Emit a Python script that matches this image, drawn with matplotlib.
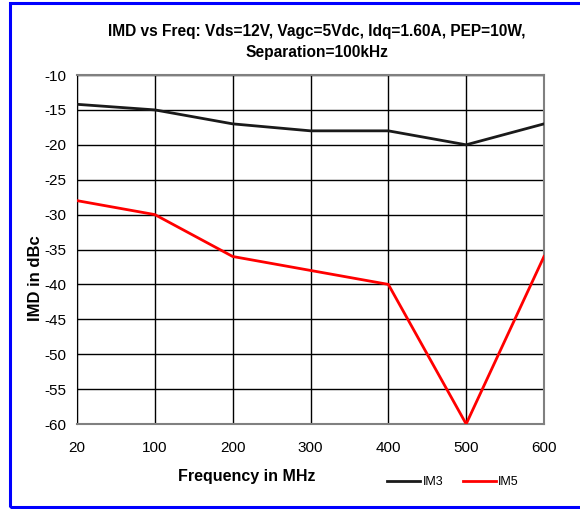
import matplotlib
matplotlib.use("Agg")
import matplotlib.pyplot as plt
from matplotlib.patches import Rectangle
from matplotlib.lines import Line2D

plt.rcParams['font.family'] = ['Liberation Sans', 'DejaVu Sans']

freqs = ["20", "100", "200", "300", "400", "500", "600"]
im3 = [-14.2, -15, -17, -18, -18, -20, -17]
im5 = [-28, -30, -36, -38, -40, -60, -36]
yticks = [-10, -15, -20, -25, -30, -35, -40, -45, -50, -55, -60]

W, H = 580, 509
fig = plt.figure(figsize=(W/100, H/100), dpi=100)
ax = fig.add_axes([77/W, 1-424/H, (544-77)/W, (424-75)/H])

x = list(range(len(freqs)))
ax.plot(x, im3, color='#1a1a1a', lw=2, label='IM3', zorder=3)
ax.plot(x, im5, color='#ff0000', lw=2, label='IM5', zorder=3)

ax.set_xlim(0, len(freqs)-1)
ax.set_ylim(-60, -10)
ax.set_xticks(x)
ax.set_xticklabels(freqs, fontsize=11)
ax.set_yticks(yticks)
ax.set_yticklabels([str(v) for v in yticks], fontsize=11)
ax.tick_params(axis='y', length=0, pad=8)
ax.tick_params(axis='x', length=0, pad=12)
ax.grid(True, color='black', lw=1, zorder=1)
for s in ['top', 'right', 'bottom']:
    ax.spines[s].set_color('#808080')
    ax.spines[s].set_linewidth(1.5)
ax.spines['left'].set_color('black')

fig.text(35/W, 1-278/H, 'IMD in dBc', fontsize=12, fontweight='bold',
         ha='center', va='center', rotation=90)
fig.text(247/W, 1-477/H, 'Frequency in MHz', fontsize=11.5, fontweight='bold',
         ha='center', va='center')
fig.text(317/W, 1-42/H, 'IMD vs Freq: Vds=12V, Vagc=5Vdc, Idq=1.60A, PEP=10W,\nSeparation=100kHz',
         fontsize=11.2, fontweight='bold', ha='center', va='center', linespacing=1.45)

handles = [Line2D([], [], color='#1a1a1a', lw=2), Line2D([], [], color='#ff0000', lw=2)]
fig.legend(handles, ['IM3', 'IM5'], loc='center', bbox_to_anchor=(453/W, 1-482/H),
           ncol=2, frameon=False, fontsize=9, handlelength=2.6, handletextpad=0.2,
           columnspacing=1.6)

fig.patches.append(Rectangle((10/W, 1-507/H), (600-10)/W, (507-3)/H,
                             transform=fig.transFigure, fill=False,
                             edgecolor='#0000ff', lw=2.2))

fig.savefig('out.png', dpi=100)
